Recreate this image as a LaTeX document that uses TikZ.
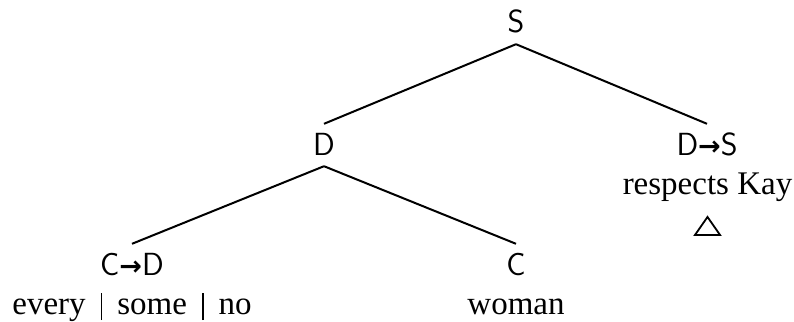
\documentclass[tikz,border=0pt]{standalone}
\usepackage{fontspec}
\setmainfont{Liberation Serif}
\newfontfamily\arrowfont{DejaVu Sans}
\usetikzlibrary{shapes.geometric}
\newcommand{\catarrow}{{\arrowfont\bfseries\fontsize{27}{27}\selectfont →}}
\newcommand{\wbar}{\hspace{15pt}\rule[-6pt]{1.6pt}{27pt}\hspace{15pt}}
\tikzset{
  cat/.style={font=\sffamily\fontsize{32}{32}\selectfont, inner xsep=0pt, inner ysep=11pt,
              text height=20pt, text depth=0pt, anchor=base},
  word/.style={font=\fontsize{33}{33}\selectfont, inner sep=0pt, anchor=base},
  branch/.style={line width=2pt},
}
\begin{document}
\begin{tikzpicture}[x=1pt,y=-1pt]
\path[use as bounding box] (0,0) rectangle (794,321);
\node[cat] (s)  at (516,33)  {S};
\node[cat] (d)  at (324,155) {D};
\node[cat] (ds) at (707,155) {D\catarrow S};
\node[cat] (cd) at (132,275) {C\catarrow D};
\node[cat] (c)  at (516,275) {C};
\node[word] (wds) at (707.5,194) {respects Kay};
\node[draw, regular polygon, regular polygon sides=3, minimum size=29pt, inner sep=0pt,
      line width=1.8pt, yscale=0.83, transform shape] (tri) at (707.5,229) {};
\node[word] (wcd) at (132,314) {every\wbar some\wbar no};
\node[word] (wc)  at (516,314) {woman};
\draw[branch] (s.south) -- (d.north);
\draw[branch] (s.south) -- (ds.north);
\draw[branch] (d.south) -- (cd.north);
\draw[branch] (d.south) -- (c.north);
\end{tikzpicture}
\end{document}
